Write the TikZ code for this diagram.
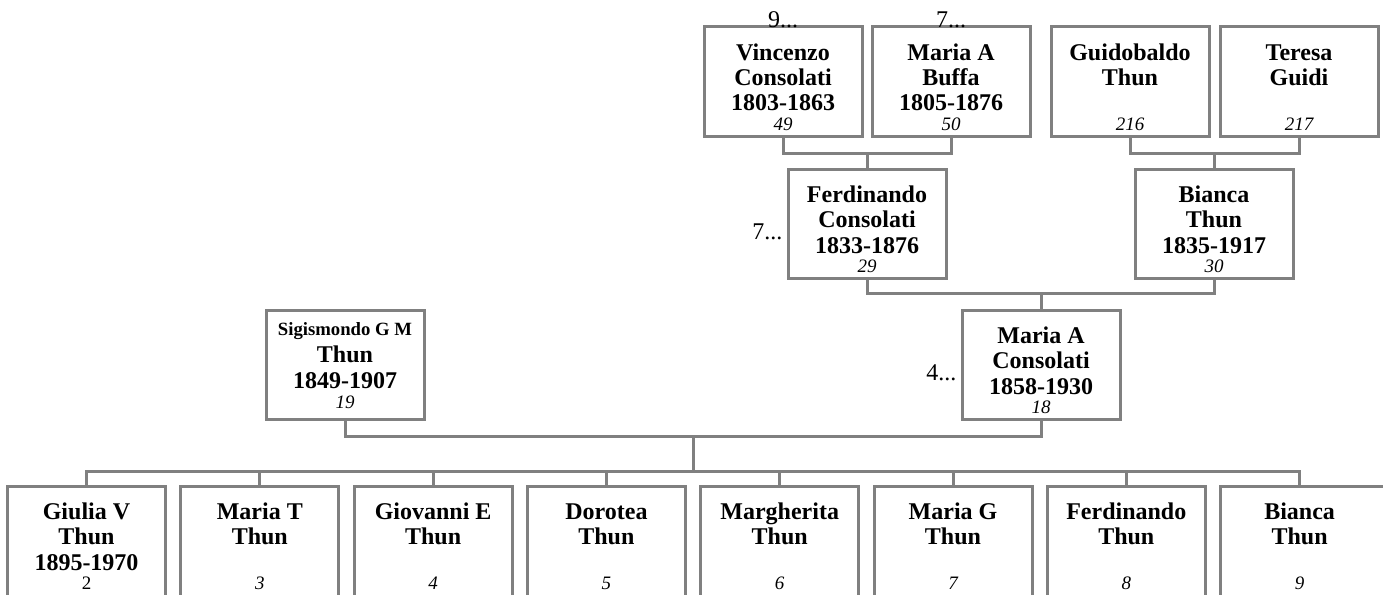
\documentclass[tikz,border=0pt]{standalone}
\usepackage{fontspec}
\setmainfont{Liberation Serif}
% #1 box height, #2 extra width on the right
\newcommand\gcard[6]{\parbox[c][#1][t]{\dimexpr158pt+#2\relax}{\centering\advance\rightskip by #2\vspace*{15pt}%
{\fontsize{24}{25.5}\selectfont\bfseries\rule{0pt}{18pt}#3\\#4\\\mbox{#5}\par}%
{\fontsize{19}{19.5}\selectfont\itshape #6\par}}}
\newcommand\pcard[4]{\gcard{109pt}{0pt}{#1}{#2}{#3}{#4}}
\newcommand\ccard[4]{\gcard{124pt}{0pt}{#1}{#2}{#3}{#4}}
\newcommand\scard[4]{\parbox[c][109pt][t]{158pt}{\centering\vspace*{7.5pt}%
{\fontsize{18.7}{20}\selectfont\bfseries\rule{0pt}{18pt}#1\par}%
{\fontsize{24}{26.5}\selectfont\bfseries #2\\#3\par}%
{\fontsize{19}{20}\selectfont\itshape #4\par}}}
\begin{document}
\begin{tikzpicture}[x=1pt,y=-1pt,
  card/.style={draw=gray,line width=3pt,inner sep=0pt,fill=white},
  conn/.style={draw=gray,line width=3pt},
  more/.style={font=\fontsize{24}{26}\selectfont,inner sep=0pt}]
\useasboundingbox (0,0) rectangle (1383,594);
\clip (0,0) rectangle (1383,594);
% great-grandparents
\node[card] (vin) at (783,81.5) {\pcard{Vincenzo}{Consolati}{1803-1863}{49}};
\node[card] (mab) at (951,81.5) {\pcard{Maria A}{Buffa}{1805-1876}{50}};
\node[card] (gui) at (1130,81.5) {\pcard{Guidobaldo}{Thun}{}{216}};
\node[card] (ter) at (1299,81.5) {\pcard{Teresa}{Guidi}{}{217}};
% grandparents
\node[card] (fe) at (867,223.5) {\pcard{Ferdinando}{Consolati}{1833-1876}{29}};
\node[card] (bia) at (1214,223.5) {\pcard{Bianca}{Thun}{1835-1917}{30}};
% parents
\node[card] (mac) at (1041,364.5) {\pcard{Maria A}{Consolati}{1858-1930}{18}};
\node[card] (sig) at (345,364.5) {\scard{Sigismondo G M}{Thun}{1849-1907}{19}};
% children
\node[card] (c1) at (86.5,548) {\ccard{Giulia V}{Thun}{1895-1970}{\upshape 2}};
\node[card] (c2) at (259.8,548) {\ccard{Maria T}{Thun}{}{3}};
\node[card] (c3) at (433.1,548) {\ccard{Giovanni E}{Thun}{}{4}};
\node[card] (c4) at (606.4,548) {\ccard{Dorotea}{Thun}{}{5}};
\node[card] (c5) at (779.7,548) {\ccard{Margherita}{Thun}{}{6}};
\node[card] (c6) at (953,548) {\ccard{Maria G}{Thun}{}{7}};
\node[card] (c7) at (1126.3,548) {\ccard{Ferdinando}{Thun}{}{8}};
\node[card] (c8) at (1304.6,548) {\gcard{124pt}{10pt}{Bianca}{Thun}{}{9}};
% more-ancestor markers
\node[more,anchor=base] (m1) at ([yshift=-2pt]vin.north) {9...};
\node[more,anchor=base] (m2) at ([yshift=-2pt]mab.north) {7...};
\node[more,anchor=base east] (m3) at ([xshift=-4pt,yshift=-16pt]fe.west) {7...};
\node[more,anchor=base east] (m4) at ([xshift=-4pt,yshift=-16pt]mac.west) {4...};
% junctions
\coordinate (j1) at (867,153);
\coordinate (j2) at (1214,153);
\coordinate (j3) at (1041,293);
\coordinate (j4) at (693,436);
\coordinate (j5) at (693,471);
\coordinate (j6) at (1299.6,471);
% connectors
\draw[conn] (vin.south) |- (j1) -| (mab.south);
\draw[conn] (j1) -- (fe.north);
\draw[conn] (gui.south) |- (j2) -| (ter.south);
\draw[conn] (j2) -- (bia.north);
\draw[conn] (fe.south) |- (j3) -| (bia.south);
\draw[conn] (j3) -- (mac.north);
\draw[conn] (sig.south) |- (j4) -| (mac.south);
\draw[conn] (j4) -- (j5);
\draw[conn] (c1.north) |- (j5) -- (j6) -- (j6 |- c8.north);
\foreach \c in {c2,c3,c4,c5,c6,c7}{\draw[conn] (\c.north) -- (\c.north |- j5);}
\end{tikzpicture}
\end{document}
